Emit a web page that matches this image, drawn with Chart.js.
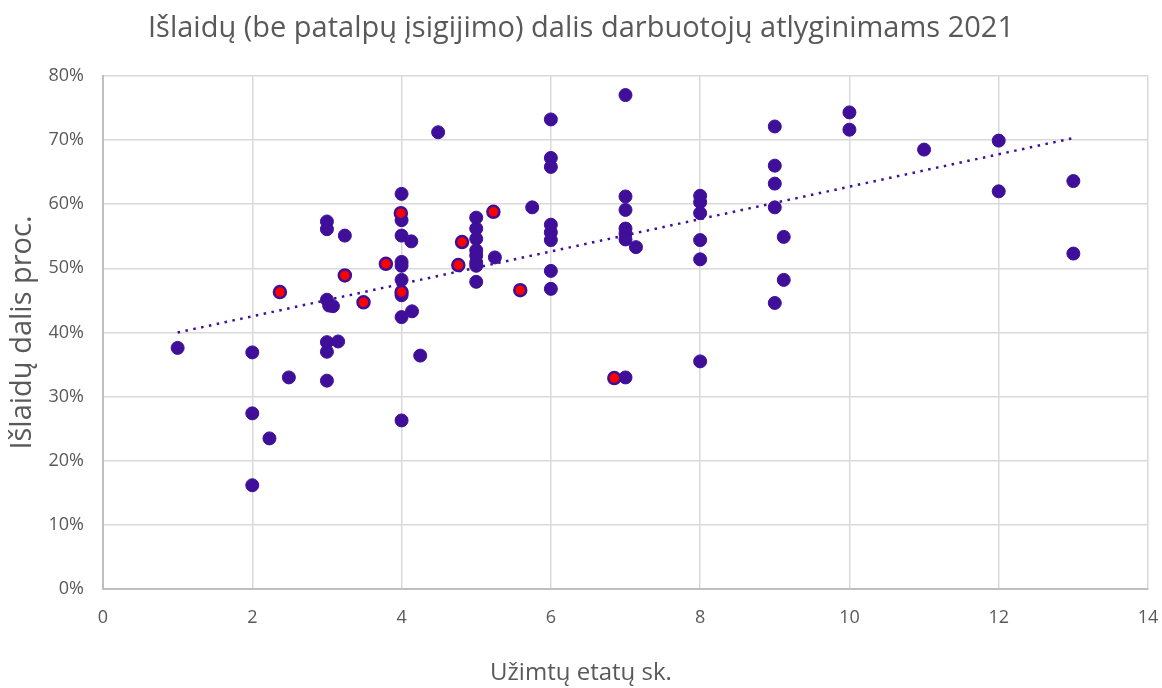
<!DOCTYPE html>
<html>
<head>
<meta charset="utf-8">
<script src="https://cdn.jsdelivr.net/npm/chart.js@4"></script>
<style>
  html, body { margin: 0; padding: 0; background: #fff; }
  #wrap { width: 1162px; height: 688px; }
</style>
</head>
<body>
<div id="wrap"><canvas id="chart" width="1162" height="688"></canvas></div>
<script>
// Purple points: x = employees (etatai), y = share %
const purpleX = [1, 2, 2, 2, 2.23, 2.49,
  3, 3, 3.24, 3, 3.03, 3.08, 3, 3.15, 3, 3,
  4, 4, 4, 4.13, 4, 4, 4, 4, 4, 4.14, 4, 4.25, 4.49,
  5, 5, 5, 5, 5, 5, 5, 5, 5.25,
  5.75, 6, 6, 6, 6, 6, 6, 6, 6,
  7, 7, 7, 7, 7, 7, 7.14, 7,
  8, 8, 8, 8, 8, 8,
  9, 9, 9, 9, 9.12, 9.12, 9,
  10, 10, 11, 12, 12, 13, 13];
const purpleY = [37.6, 36.9, 27.4, 16.2, 23.5, 33.0,
  57.3, 56.1, 55.1, 45.1, 44.2, 44.1, 38.5, 38.6, 37.0, 32.5,
  61.6, 57.5, 55.1, 54.2, 51.0, 50.4, 48.2, 45.8, 42.4, 43.3, 26.3, 36.4, 71.2,
  57.9, 56.2, 54.6, 52.8, 52.0, 50.9, 50.4, 47.9, 51.7,
  59.5, 73.2, 67.2, 65.8, 56.8, 55.6, 54.4, 49.6, 46.8,
  77.0, 61.2, 59.1, 56.2, 55.4, 54.5, 53.3, 33.0,
  61.3, 60.3, 58.6, 54.4, 51.4, 35.5,
  72.1, 66.0, 63.2, 59.5, 54.9, 48.2, 44.6,
  74.3, 71.6, 68.5, 69.9, 62.0, 63.6, 52.3];

// Highlighted (red) points
const redX = [2.37, 3.24, 3.49, 3.79, 3.99, 4.0, 4.76, 4.81, 5.23, 5.59, 6.85];
const redY = [46.3, 48.9, 44.7, 50.7, 58.6, 46.3, 50.5, 54.1, 58.8, 46.6, 32.9];

// Linear trend line endpoints
const trendX = [1, 13];
const trendY = [40.0, 70.3];

const xTicks = [0, 2, 4, 6, 8, 10, 12, 14];
const yTicks = [0, 10, 20, 30, 40, 50, 60, 70, 80];

const toPoints = (xs, ys) => xs.map((x, i) => ({ x: x, y: ys[i] }));

const PURPLE = '#3f0f9a';
const TEXT = '#595959';
const FONT = "'Open Sans', 'Noto Sans', sans-serif";

new Chart(document.getElementById('chart').getContext('2d'), {
  type: 'scatter',
  data: {
    datasets: [
      {
        label: 'Trend',
        type: 'line',
        data: toPoints(trendX, trendY),
        borderColor: PURPLE,
        borderWidth: 2.5,
        borderDash: [2.5, 5.5],
        pointRadius: 0,
        fill: false,
        order: 3
      },
      {
        label: 'Visi',
        data: toPoints(purpleX, purpleY),
        backgroundColor: PURPLE,
        borderColor: PURPLE,
        borderWidth: 1,
        pointRadius: 6.5,
        order: 2
      },
      {
        label: 'Pažymėti',
        data: toPoints(redX, redY),
        backgroundColor: '#ff0000',
        borderColor: PURPLE,
        borderWidth: 2.5,
        pointRadius: 6,
        order: 1
      }
    ]
  },
  options: {
    responsive: false,
    animation: false,
    layout: { padding: { left: 14, right: 14, top: 0, bottom: 0 } },
    plugins: {
      legend: { display: false },
      tooltip: { enabled: false },
      title: {
        display: true,
        text: 'Išlaidų (be patalpų įsigijimo) dalis darbuotojų atlyginimams 2021',
        color: TEXT,
        font: { family: FONT, size: 29, weight: 'normal' },
        padding: { top: 11, bottom: 30 }
      },
      // x-axis caption is centred on the whole picture, not on the plot area
      subtitle: {
        display: true,
        position: 'bottom',
        text: 'Užimtų etatų sk.',
        color: TEXT,
        font: { family: FONT, size: 24, weight: 'normal' },
        padding: { top: 0, bottom: 0 }
      }
    },
    scales: {
      x: {
        type: 'linear',
        min: 0,
        max: 14,
        afterBuildTicks: s => { s.ticks = xTicks.map(v => ({ value: v })); },
        afterFit: s => { s.height = 70; s.paddingRight = 0; s.paddingLeft = 0; },
        grid: { color: '#d9d9d9', lineWidth: 1.5, drawTicks: false },
        border: { color: '#bfbfbf', width: 2 },
        ticks: { color: TEXT, font: { family: FONT, size: 18 }, padding: 18 }
      },
      y: {
        type: 'linear',
        min: 0,
        max: 80,
        afterBuildTicks: s => { s.ticks = yTicks.map(v => ({ value: v })); },
        afterFit: s => { s.width = 89; s.paddingTop = 0; s.paddingBottom = 0; },
        grid: { color: '#d9d9d9', lineWidth: 1.5, drawTicks: false },
        border: { color: '#bfbfbf', width: 2 },
        ticks: {
          color: TEXT,
          font: { family: FONT, size: 18 },
          padding: 19,
          callback: v => v + '%'
        },
        title: {
          display: true,
          text: 'Išlaidų dalis proc.',
          color: TEXT,
          font: { family: FONT, size: 29 },
          padding: { top: -9, bottom: 0 }
        }
      }
    }
  }
});
</script>
</body>
</html>
